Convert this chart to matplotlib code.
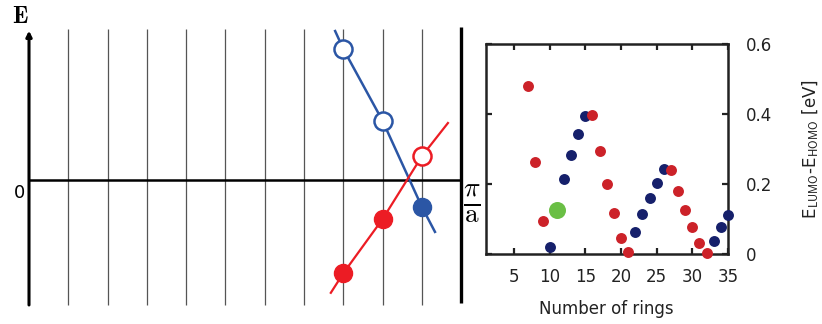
import matplotlib
matplotlib.use("Agg")
import matplotlib.pyplot as plt

plt.rcParams["font.family"] = ["DejaVu Sans"]
plt.rcParams["mathtext.fontset"] = "cm"

# --- band sketch (k in units of lattice lines, energy in arbitrary units) ---
grid_k = [1, 2, 3, 4, 5, 6, 7, 8, 9, 10]
zone_edge = 11

blue_k = [7.79, 8, 9, 10, 10.33]
blue_e = [3.79, 3.33, 1.50, -0.69, -1.32]
blue_open_k = [8, 9]
blue_open_e = [3.33, 1.50]
blue_fill_k = [10]
blue_fill_e = [-0.69]

red_k = [7.68, 8, 9, 10, 10.66]
red_e = [-2.87, -2.37, -0.99, 0.61, 1.45]
red_fill_k = [8, 9]
red_fill_e = [-2.37, -0.99]
red_open_k = [10]
red_open_e = [0.61]

# --- gap vs number of rings ---
red_rings = [7, 8, 9, 16, 17, 18, 19, 20, 21, 27, 28, 29, 30, 31, 32]
red_gap = [0.48, 0.262, 0.093, 0.397, 0.294, 0.200, 0.118, 0.046, 0.007,
           0.241, 0.181, 0.127, 0.077, 0.032, 0.003]
navy_rings = [10, 12, 13, 14, 15, 22, 23, 24, 25, 26, 33, 34, 35]
navy_gap = [0.019, 0.213, 0.284, 0.343, 0.393, 0.062, 0.115, 0.161, 0.202,
            0.242, 0.038, 0.076, 0.111]
green_rings = [11]
green_gap = [0.126]
x_ticks = [5, 10, 15, 20, 25, 30, 35]
y_ticks = [0, 0.2, 0.4, 0.6]
y_ticklabels = ["0", "0.2", "0.4", "0.6"]

BLUE = "#2b56a5"
RED = "#ec1c24"

fig = plt.figure(figsize=(8.22, 3.24), dpi=100)

# left: schematic band picture
ax0 = fig.add_axes([0, 0, 480 / 822, 1])
ax0.set_xlim(-0.738, 11.476)
ax0.set_ylim(-3.664, 4.58)
ax0.axis("off")

ax0.vlines(grid_k, -3.18, 3.83, color="#555555", lw=0.9)
ax0.plot([zone_edge, zone_edge], [-3.13, 3.89], color="black", lw=2.4,
         solid_capstyle="butt")
ax0.plot([0, zone_edge], [0, 0], color="black", lw=1.8)
ax0.annotate("", xy=(0, 3.80), xytext=(0, -3.18),
             arrowprops=dict(arrowstyle="-|>", lw=2.2, color="black",
                             mutation_scale=8, shrinkA=0, shrinkB=0))

ax0.plot(blue_k, blue_e, color=BLUE, lw=1.8, zorder=3)
ax0.plot(red_k, red_e, color=RED, lw=1.6, zorder=3)
ax0.plot(blue_open_k, blue_open_e, "o", ms=13, mfc="white", mec=BLUE,
         mew=1.8, zorder=4)
ax0.plot(blue_fill_k, blue_fill_e, "o", ms=13, color=BLUE, zorder=4)
ax0.plot(red_fill_k, red_fill_e, "o", ms=13, color=RED, zorder=4)
ax0.plot(red_open_k, red_open_e, "o", ms=13, mfc="white", mec=RED,
         mew=1.8, zorder=4)

ax0.text(-0.23, 4.18, r"$\mathbf{E}$", fontsize=17, ha="center", va="center")
ax0.text(-0.23, -0.33, "0", fontsize=13, ha="center", va="center")
ax0.text(11.27, -0.62, r"$\frac{\pi}{\mathrm{a}}$", fontsize=28,
         ha="center", va="center")

# right: HOMO-LUMO gap
ax1 = fig.add_axes([485.5 / 822, (324 - 254) / 324, 242.5 / 822, 210 / 324])
ax1.scatter(navy_rings, navy_gap, s=62, color="#16206b", lw=0, zorder=3,
            clip_on=False)
ax1.scatter(red_rings, red_gap, s=62, color="#cc2229", lw=0, zorder=4,
            clip_on=False)
ax1.scatter(green_rings, green_gap, s=150, color="#6abf45", lw=0, zorder=4,
            clip_on=False)

ax1.set_xlim(1, 35)
ax1.set_ylim(0, 0.6)
ax1.set_xticks(x_ticks)
ax1.set_yticks(y_ticks)
ax1.set_yticklabels(y_ticklabels)
ax1.tick_params(direction="in", length=4, width=1.6, color="#222222",
                top=True, bottom=True, left=True, right=True,
                labelleft=False, labelright=True, labelsize=12,
                labelcolor="#222222")
ax1.tick_params(axis="y", pad=13)
ax1.tick_params(axis="x", pad=10)
for sp in ax1.spines.values():
    sp.set_linewidth(1.8)
    sp.set_color("#222222")

ax1.set_xlabel("Number of rings", fontsize=12, labelpad=10, color="#222222")
ax1.yaxis.set_label_position("right")
ax1.set_ylabel(r"E$_{\mathsf{LUMO}}$-E$_{\mathsf{HOMO}}$ [eV]", fontsize=12,
               labelpad=20, color="#222222")

fig.savefig("out.png", dpi=100)
